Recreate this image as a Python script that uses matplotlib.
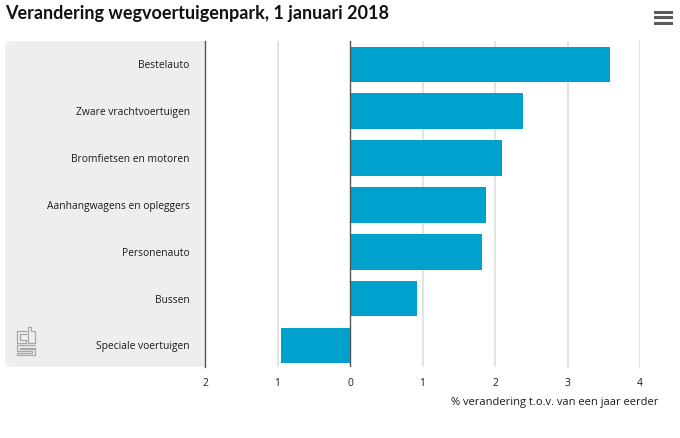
import matplotlib
matplotlib.use("Agg")
import matplotlib.pyplot as plt
from matplotlib.patches import FancyBboxPatch, Rectangle
from matplotlib.lines import Line2D

categories = ["Bestelauto", "Zware vrachtvoertuigen", "Bromfietsen en motoren",
              "Aanhangwagens en opleggers", "Personenauto", "Bussen", "Speciale voertuigen"]
values = [3.58, 2.39, 2.10, 1.87, 1.82, 0.93, -0.95]
ticks = [-2, -1, 0, 1, 2, 3, 4]
tick_labels = ["2", "1", "0", "1", "2", "3", "4"]
title = "Verandering wegvoertuigenpark, 1 januari 2018"
xlabel = "% verandering t.o.v. van een jaar eerder"

W, H = 680, 438
plt.rcParams['font.family'] = ['Open Sans', 'DejaVu Sans']
fig = plt.figure(figsize=(W/100, H/100), dpi=100)
TXT = "#1c1c1c"

def fx(p): return p / W
def fy(p): return 1 - p / H

# grey category panel
fig.add_artist(FancyBboxPatch((fx(5), fy(367)), fx(200), 326/H,
    boxstyle="round,pad=0,rounding_size=0.012", transform=fig.transFigure,
    fc="#eeeeee", ec="none", zorder=0))
fig.add_artist(Rectangle((fx(190), fy(367)), fx(15), 326/H, transform=fig.transFigure,
    fc="#eeeeee", ec="none", zorder=0))

ax = fig.add_axes([fx(205), fy(367), fx(435), 326/H])
ax.patch.set_alpha(0)
ax.set_xlim(-2, 4)
ax.set_ylim(6.46, -0.5)
ax.barh(range(len(values)), values, height=0.76, color="#00a1cd", zorder=2)
for t in ticks[1:]:
    if t != 0:
        ax.axvline(t, color="#e0e0e0", lw=1.3, zorder=1)
ax.axvline(0, color="#555555", lw=1.0, zorder=3)
ax.axvline(-2, color="#555555", lw=1.0, zorder=3, clip_on=False)
for s in ax.spines.values():
    s.set_visible(False)
ax.set_xticks(ticks)
ax.set_xticklabels(tick_labels, fontsize=7.4, color=TXT)
ax.set_yticks(range(len(values)))
ax.set_yticklabels(categories, fontsize=7.4, color=TXT)
ax.tick_params(axis="x", length=0, pad=8)
ax.tick_params(axis="y", length=0, pad=11)
fig.text(fx(658), fy(402.5), xlabel, ha="right", va="center", fontsize=8.05, color=TXT)

fig.text(fx(5), fy(13), title, fontsize=13, fontweight="bold", color="#111111",
         ha="left", va="center", family=["Lato", "DejaVu Sans"])

# menu icon
for y in (11.5, 17, 22.5):
    fig.add_artist(Line2D([fx(655), fx(671)], [fy(y), fy(y)], color="#5a5a5a", lw=2.2,
                          transform=fig.transFigure))

# cbs logo outline
logo = [
    [(26, 331), (17, 331), (17, 343), (26, 343), (26, 340), (20, 340), (20, 334), (26, 334)],
    [(28, 327), (31, 327), (31, 331), (35, 331), (35, 343), (28, 343), (28, 327)],
    [(35, 345), (17, 345), (17, 351), (32, 351), (32, 352.5), (17, 352.5), (17, 355), (35, 355), (35, 348.5), (20, 348.5), (20, 347.5), (35, 347.5)],
]
for seg in logo:
    fig.add_artist(Line2D([fx(p[0]) for p in seg], [fy(p[1]) for p in seg], color="#a8a8a8",
                          lw=0.9, transform=fig.transFigure))

fig.savefig("out.png", dpi=100)
